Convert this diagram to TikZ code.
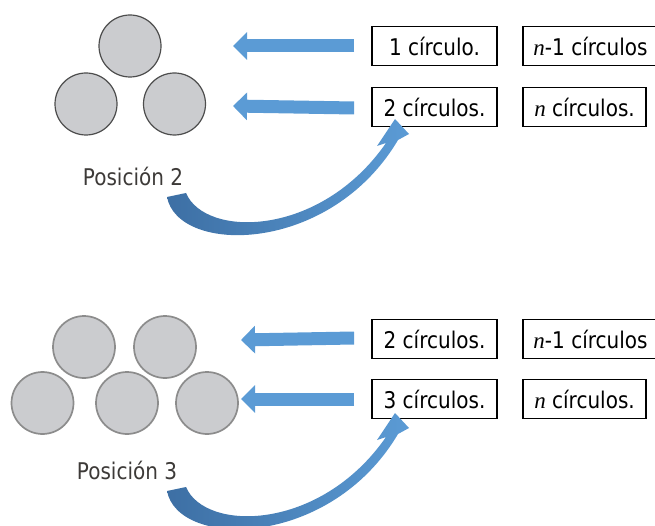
\documentclass[tikz,border=0pt]{standalone}
\usepackage{fontspec}
\setmainfont{DejaVu Sans}[FakeStretch=0.87]
\newfontfamily\italserif{Liberation Serif}[Scale=1.0]
\usetikzlibrary{arrows.meta}
\definecolor{dotfill}{HTML}{CBCCCF}
\definecolor{dotedgeA}{HTML}{4D4D4D}
\definecolor{dotedgeB}{HTML}{8C8C8C}
\definecolor{arrowblue}{HTML}{5B9BD5}
\definecolor{arrowdark}{HTML}{3D6FA4}
\definecolor{labelgray}{HTML}{3D3A38}
\newcommand{\nvar}{{\italserif\itshape n}}
% bent block arrow from a position label up to a box; #1 = vertical offset
\newcommand{\bentarrow}[1]{%
  \begin{scope}[yshift=#1]
    \coordinate (o0) at (167,197);
    \coordinate (i0) at (186,193);
    \shade[left color=arrowdark, right color=arrowblue]
      (o0) .. controls (178,255) and (330,255) .. (398,140)
      -- (409,134) -- (395,119) -- (377,146) -- (386,143)
      .. controls (320,238) and (205,238) .. (i0) -- cycle;
  \end{scope}}
\begin{document}
\begin{tikzpicture}[x=1pt,y=-1pt,
  dot/.style={circle, fill=dotfill, minimum size=62pt, inner sep=0pt},
  dotA/.style={dot, draw=dotedgeA, line width=1.2pt},
  dotB/.style={dot, draw=dotedgeB, line width=1.7pt},
  countbox/.style={draw=black, line width=1.8pt, minimum height=39pt,
    inner sep=0pt, font=\fontsize{23}{27}\selectfont},
  poslabel/.style={text=labelgray, font=\fontsize{23}{27}\selectfont},
  blockarrow/.style={draw=arrowblue, line width=13pt,
    -{Triangle[width=27pt,length=14pt]}}]
\useasboundingbox (0,0) rectangle (655,526);
\clip (0,0) rectangle (655,526);

% ---------- position 2 ----------
\node[dotA] (p2a) at (130,46) {};
\node[dotA] (p2b) at (86,104) {};
\node[dotA] (p2c) at (174.5,104) {};
\node[poslabel] (lab2) at (133,176) {Posición 2};

\node[countbox, minimum width=125pt] (a1) at (434.5,46) {1 círculo.};
\node[countbox, minimum width=135pt] (b1) at (590.5,46) {\nvar-1 círculos};
\node[countbox, minimum width=125pt] (a2) at (434.5,107) {2 círculos.};
\node[countbox, minimum width=123pt] (b2) at (584.5,107) {\nvar{} círculos.};

\coordinate (t1) at (233,46);
\coordinate (t2) at (233,106);
\draw[blockarrow] ([xshift=-17pt]a1.west) -- (t1);
\draw[blockarrow] ([xshift=-17pt,yshift=-1pt]a2.west) -- (t2);
\bentarrow{0pt}

% ---------- position 3 ----------
\node[dotB] (p3a) at (84,347) {};
\node[dotB] (p3b) at (165,347) {};
\node[dotB] (p3c) at (42.5,403) {};
\node[dotB] (p3d) at (127,403) {};
\node[dotB] (p3e) at (207,403) {};
\node[poslabel] (lab3) at (127,470) {Posición 3};

\node[countbox, minimum width=125pt] (a3) at (434.5,339) {2 círculos.};
\node[countbox, minimum width=135pt] (b3) at (590.5,339) {\nvar-1 círculos};
\node[countbox, minimum width=125pt] (a4) at (434.5,399) {3 círculos.};
\node[countbox, minimum width=123pt] (b4) at (584.5,399) {\nvar{} círculos.};

\coordinate (t3) at (241,340);
\coordinate (t4) at (241,399);
\draw[blockarrow] ([xshift=-17pt,yshift=1pt]a3.west) -- (t3);
\draw[blockarrow] ([xshift=-17pt]a4.west) -- (t4);
\bentarrow{-294pt}
\end{tikzpicture}
\end{document}
